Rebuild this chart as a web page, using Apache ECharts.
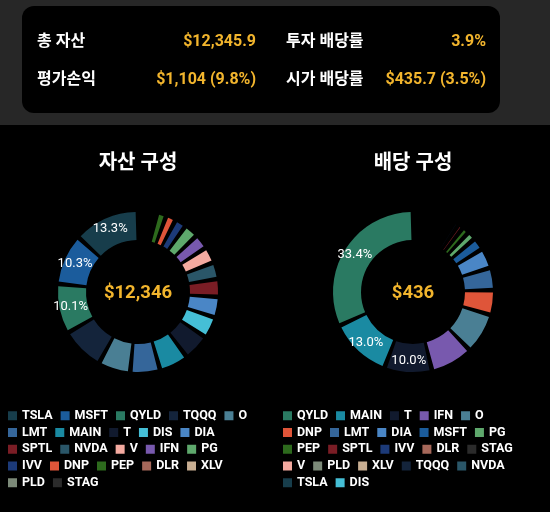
<!DOCTYPE html>
<html>
<head>
<meta charset="utf-8">
<script src="https://cdn.jsdelivr.net/npm/echarts@6/dist/echarts.min.js"></script>
<style>
html,body{margin:0;padding:0;background:#000;}
#c{width:550px;height:512px;}
</style>
</head>
<body>
<div id="c"></div>
<script>
// ---- data ----
const assetNames = ['TSLA','MSFT','QYLD','TQQQ','O','LMT','MAIN','T','DIS','DIA','SPTL','NVDA','V','IFN','PG','IVV','DNP','PEP','DLR','XLV','PLD','STAG'];
const assetValues = [1642,1272,1247,1074,802,741,728,667,531,519,444,420,407,370,358,284,247,235,111,99,86,62];
const divNames = ['QYLD','MAIN','T','IFN','O','DNP','LMT','DIA','MSFT','PG','PEP','SPTL','IVV','DLR','STAG','V','PLD','XLV','TQQQ','NVDA','TSLA','DIS'];
const divValues = [145.5,56.6,43.6,38.8,37.1,22.7,20.5,18.3,11.3,7.8,6.5,4.8,4.4,3.9,3.5,3.0,2.6,2.2,1.3,0.9,0.4,0];
const summaryLabels = ['총 자산','투자 배당률','평가손익','시가 배당률'];
const summaryValues = ['$12,345.9','3.9%','$1,104 (9.8%)','$435.7 (3.5%)'];
const chartTitles = ['자산 구성','배당 구성'];
const centerTexts = ['$12,346','$436'];
const colorMap = {
  TSLA:'#173d4b', MSFT:'#1b5c9c', QYLD:'#2a7a62', TQQQ:'#14243b', O:'#4a7f94',
  LMT:'#35669a', MAIN:'#1a8aa2', T:'#111a2e', DIS:'#45bfd6', DIA:'#4a86c6',
  SPTL:'#7a1d25', NVDA:'#2a5668', V:'#f4aaa0', IFN:'#7859ae', PG:'#5ea86c',
  IVV:'#1c3a78', DNP:'#df5539', PEP:'#2d6a1d', DLR:'#a6685a', XLV:'#c8ae92',
  PLD:'#7c8a79', STAG:'#2b2b2b'
};
// ---------------

const FONT = 'Roboto, "Noto Sans CJK KR", sans-serif';
const GOLD = '#f2b52d';
const chart = echarts.init(document.getElementById('c'), null, {renderer:'canvas'});

function mk(names, values){
  return names.map((n,i)=>({name:n, value:values[i], itemStyle:{color:colorMap[n]}}));
}

function pieSeries(names, values, cx){
  return {
    type:'pie',
    center:[cx, 292],
    radius:[52, 80],
    startAngle:90,
    clockwise:false,
    padAngle:3.4,
    avoidLabelOverlap:false,
    silent:true,
    label:{
      show:true, position:'inside', color:'#fff', fontSize:13, fontFamily:FONT,
      formatter:function(p){ return p.percent >= 9.95 ? p.percent.toFixed(1) + '%' : ''; }
    },
    labelLine:{show:false},
    emphasis:{disabled:true},
    data: mk(names, values)
  };
}

const graphics = [
  {type:'rect', shape:{x:0,y:0,width:550,height:125}, style:{fill:'#272727'}, z:-10},
  {type:'rect', shape:{x:22,y:6,width:478,height:107,r:12}, style:{fill:'#000'}, z:-9},
  {type:'text', x:37, y:42, style:{text:summaryLabels[0], fill:'#fff', font:'bold 16px '+FONT, verticalAlign:'middle'}},
  {type:'text', x:286, y:42, style:{text:summaryLabels[1], fill:'#fff', font:'bold 16px '+FONT, verticalAlign:'middle'}},
  {type:'text', x:37, y:80, style:{text:summaryLabels[2], fill:'#fff', font:'bold 16px '+FONT, verticalAlign:'middle'}},
  {type:'text', x:286, y:80, style:{text:summaryLabels[3], fill:'#fff', font:'bold 16px '+FONT, verticalAlign:'middle'}},
  {type:'text', x:256, y:42, style:{text:summaryValues[0], fill:GOLD, font:'bold 16px '+FONT, align:'right', verticalAlign:'middle'}},
  {type:'text', x:486, y:42, style:{text:summaryValues[1], fill:GOLD, font:'bold 16px '+FONT, align:'right', verticalAlign:'middle'}},
  {type:'text', x:256, y:80, style:{text:summaryValues[2], fill:GOLD, font:'bold 16px '+FONT, align:'right', verticalAlign:'middle'}},
  {type:'text', x:486, y:80, style:{text:summaryValues[3], fill:GOLD, font:'bold 16px '+FONT, align:'right', verticalAlign:'middle'}},
  {type:'text', x:138, y:164, style:{text:chartTitles[0], fill:'#fff', font:'bold 20px '+FONT, align:'center', verticalAlign:'middle'}},
  {type:'text', x:413, y:164, style:{text:chartTitles[1], fill:'#fff', font:'bold 20px '+FONT, align:'center', verticalAlign:'middle'}},
  {type:'text', x:138, y:293, z:10, style:{text:centerTexts[0], fill:GOLD, font:'bold 18.5px '+FONT, align:'center', verticalAlign:'middle'}},
  {type:'text', x:413, y:293, z:10, style:{text:centerTexts[1], fill:GOLD, font:'bold 18.5px '+FONT, align:'center', verticalAlign:'middle'}}
];

const legendCommon = {
  orient:'horizontal', itemWidth:9, itemHeight:9, itemGap:8, padding:0,
  icon:'rect', selectedMode:false,
  textStyle:{color:'#fff', fontSize:12.5, fontWeight:'bold', fontFamily:FONT}
};

// legend laid out in rows of five entries
function legendRows(names, left){
  const out = [];
  for (let i = 0, r = 0; i < names.length; i += 5, r++) {
    out.push(Object.assign({}, legendCommon, {left:left, top:409.5 + r*16.75, data:names.slice(i, i+5)}));
  }
  return out;
}

chart.setOption({
  backgroundColor:'#000',
  animation:false,
  graphic:graphics,
  legend: legendRows(assetNames, 8).concat(legendRows(divNames, 283)),
  series:[
    pieSeries(assetNames, assetValues, 138),
    pieSeries(divNames, divValues, 413)
  ]
});
</script>
</body>
</html>
